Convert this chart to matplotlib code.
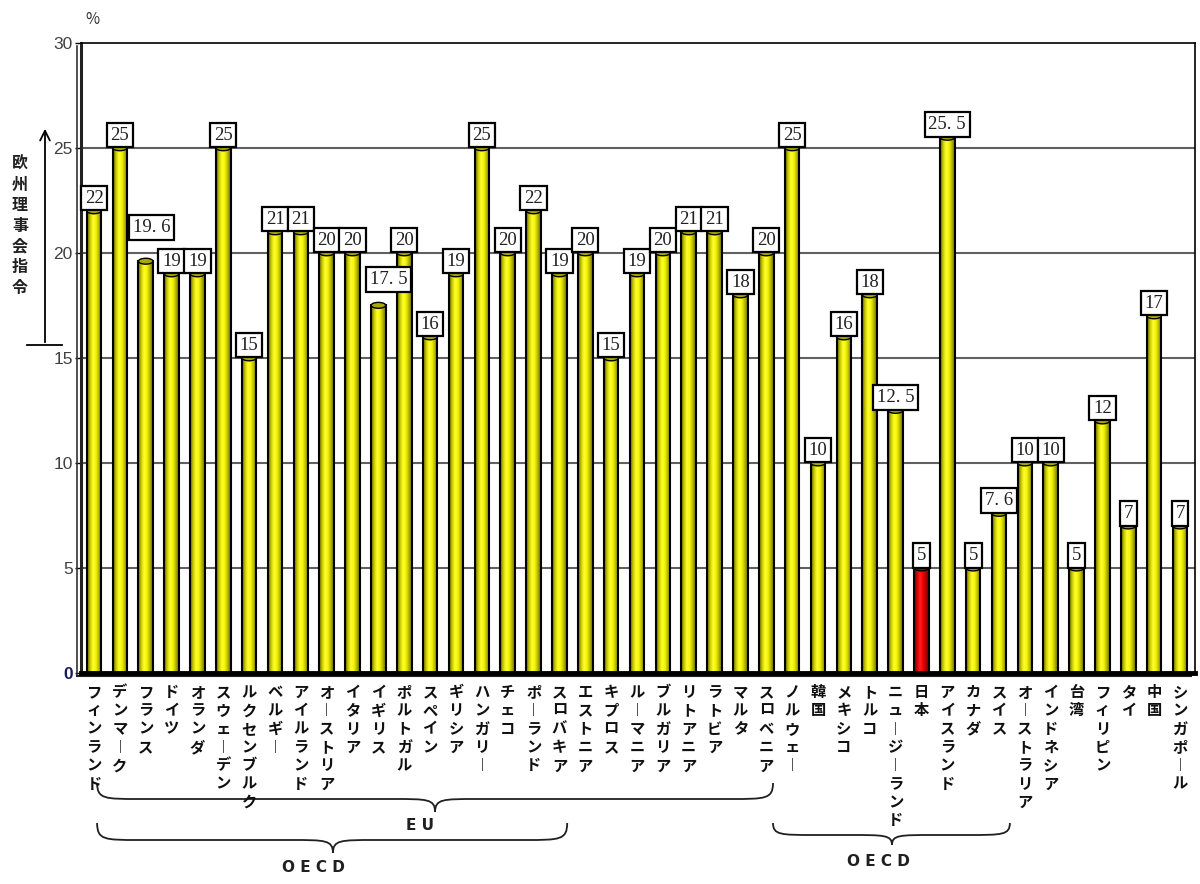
# -*- coding: utf-8 -*-

#   Importing Modules/Libraries/Packages
import numpy as np
import matplotlib
matplotlib.use('Agg')
import matplotlib.pyplot as plt
from matplotlib.path import Path
from matplotlib.patches import PathPatch, Ellipse
from matplotlib.lines import Line2D
from matplotlib.colors import LinearSegmentedColormap
import matplotlib.transforms as mtransforms



#   Data
countries = ['フィンランド', 'デンマーク', 'フランス', 'ドイツ', 'オランダ', 'スウェーデン',
             'ルクセンブルク', 'ベルギー', 'アイルランド', 'オーストリア', 'イタリア', 'イギリス',
             'ポルトガル', 'スペイン', 'ギリシア', 'ハンガリー', 'チェコ', 'ポーランド',
             'スロバキア', 'エストニア', 'キプロス', 'ルーマニア', 'ブルガリア', 'リトアニア',
             'ラトビア', 'マルタ', 'スロベニア', 'ノルウェー', '韓国', 'メキシコ', 'トルコ',
             'ニュージーランド', '日本', 'アイスランド', 'カナダ', 'スイス', 'オーストラリア',
             'インドネシア', '台湾', 'フィリピン', 'タイ', '中国', 'シンガポール']
rates = [22, 25, 19.6, 19, 19, 25,
         15, 21, 21, 20, 20, 17.5,
         20, 16, 19, 25, 20, 22,
         19, 20, 15, 19, 20, 21,
         21, 18, 20, 25, 10, 16, 18,
         12.5, 5, 25.5, 5, 7.6, 10,
         10, 5, 12, 7, 17, 7]
highlight = '日本'
yticks = [0, 5, 10, 15, 20, 25, 30]
groups = ['E U', 'O E C D', 'O E C D']



#   Figure
W, H = 1200, 884
plt.rcParams['font.family'] = ['Noto Sans CJK JP', 'DejaVu Sans']
fig = plt.figure(figsize=(W / 100, H / 100), dpi=100)
fig.patch.set_facecolor('white')
ax = fig.add_axes([81 / W, (H - 673) / H, 1114 / W, (673 - 42.7) / H])

x = np.arange(len(countries))
bw = 0.56

yellow = LinearSegmentedColormap.from_list('yel', ['#5e5e00', '#c8c800', '#ffff30', '#f4f400', '#b4b400', '#6a6a00'])
red = LinearSegmentedColormap.from_list('red', ['#700000', '#d00000', '#ff2020', '#f00000', '#b00000', '#700000'])
grad = np.linspace(0, 1, 64).reshape(1, -1)

#   Bars with cylinder shading
for xi, v, name in zip(x, rates, countries):
    cm = red if name == highlight else yellow
    ax.imshow(grad, extent=[xi - bw / 2, xi + bw / 2, 0, v], aspect='auto',
              cmap=cm, zorder=2, interpolation='bicubic')
    cap = '#a00000' if name == highlight else '#a8a800'
    ax.add_patch(Ellipse((xi, v), bw, 0.28, facecolor=cap, edgecolor='black', lw=1, zorder=4))

ax.bar(x, rates, width=bw, fill=False, edgecolor='black', linewidth=1.5, zorder=3)

ax.set_xlim(-0.503, 42.58)
ax.set_ylim(0, 30)

#   Grid / frame
for t in yticks[1:-1]:
    ax.axhline(t, color='#606060', lw=1.5, zorder=1)
for s in ['top', 'right']:
    ax.spines[s].set_linewidth(1.2)
ax.spines['left'].set_linewidth(2.2)
ax.spines['bottom'].set_linewidth(3.5)
ax.spines['left'].set_color('#222222')
# 3D wall edge
wall = mtransforms.offset_copy(ax.transAxes, fig=fig, x=-4, y=-3, units='dots')
ax.add_line(Line2D([0, 0], [0, 1], transform=wall, color='#333333', lw=1.2, clip_on=False))
ax.add_line(Line2D([0, 1], [0, 0], transform=wall, color='#222222', lw=1.5, clip_on=False))

ax.set_xticks([])
ax.set_yticks(yticks)
ax.set_yticklabels([str(t) for t in yticks], family=['Liberation Sans', 'DejaVu Sans'],
                   fontsize=12.5, color='#404040')
ax.get_yticklabels()[0].set_color('#1a1a60')
ax.get_yticklabels()[0].set_fontweight('bold')
ax.tick_params(axis='y', length=4, width=1, pad=2, direction='out')



#   Value labels
lab_off = {2: (6, 21), 11: (10, 13)}   # pixel shifts for crowded labels
for i, (xi, v) in enumerate(zip(x, rates)):
    s = ('%g' % v).replace('.', '. ')
    dx, dy = lab_off.get(i, (0, 0))
    ax.annotate(s, (xi, v), xytext=(dx * 0.72, 3 + dy * 0.72), textcoords='offset points',
                ha='center', va='bottom', fontsize=13.5,
                family=['Liberation Serif', 'DejaVu Serif'], color='#202020', zorder=6,
                bbox=dict(boxstyle='square,pad=0.2', facecolor='white', edgecolor='black', lw=1.6))



#   Category labels (vertical text)
pix = mtransforms.Affine2D().scale(1, -1).translate(0, H)
bt = mtransforms.blended_transform_factory(ax.transData, pix)
for xi, name in zip(x, countries):
    s = '\n'.join(name.replace('ー', '︱'))
    ax.text(xi, 684, s, transform=bt, ha='center', va='top', fontsize=11,
            fontweight='bold', linespacing=1.18, color='#101010', clip_on=False)



#   Braces
def brace(x0, x1, xt, y_end, y_mid, y_tip, label, xl, y_lab):
    c = 1.6   # curve length in data units
    verts = [(x0, y_end), (x0, y_mid), (x0 + 0.3, y_mid), (x0 + c, y_mid),
             (xt - c, y_mid),
             (xt - 0.3, y_mid), (xt, y_mid), (xt, y_tip),
             (xt, y_mid), (xt + 0.3, y_mid), (xt + c, y_mid),
             (x1 - c, y_mid),
             (x1 - 0.3, y_mid), (x1, y_mid), (x1, y_end)]
    codes = [Path.MOVETO, Path.CURVE4, Path.CURVE4, Path.CURVE4,
             Path.LINETO,
             Path.CURVE4, Path.CURVE4, Path.CURVE4,
             Path.CURVE4, Path.CURVE4, Path.CURVE4,
             Path.LINETO,
             Path.CURVE4, Path.CURVE4, Path.CURVE4]
    ax.add_patch(PathPatch(Path(verts, codes), transform=bt, fill=False,
                           edgecolor='#202020', lw=1.3, clip_on=False))
    ax.text(xl, y_lab, label, transform=bt, ha='center', va='center', fontsize=11,
            fontweight='bold', family=['DejaVu Sans'], color='#202020', clip_on=False)

brace(0.12, 26.26, 13.19, 783, 799, 812, groups[0], 12.6, 825)
brace(0.12, 18.3, 9.24, 823, 840, 853, groups[1], 8.5, 867)
brace(26.26, 35.42, 30.86, 823, 835, 845, groups[2], 30.35, 861)



#   Axis title and arrow
fig.text(92 / W, 1 - 20 / H, '%', ha='center', va='center', fontsize=11, color='#303030')
fig.text(20 / W, 1 - 156 / H, '\n'.join('欧州理事会指令'), ha='center', va='top',
         fontsize=11.5, fontweight='bold', linespacing=1.36, color='#202020')
ax.annotate('', xy=(45, H - 126), xytext=(45, H - 345), xycoords='figure pixels',
            textcoords='figure pixels', annotation_clip=False,
            arrowprops=dict(arrowstyle='->,head_width=0.35,head_length=0.7', lw=1.3, color='black'))
fig.add_artist(Line2D([27, 62], [H - 345, H - 345], transform=mtransforms.IdentityTransform(),
                      color='black', lw=1.3))

fig.savefig('out.png', dpi=100, facecolor='white')
